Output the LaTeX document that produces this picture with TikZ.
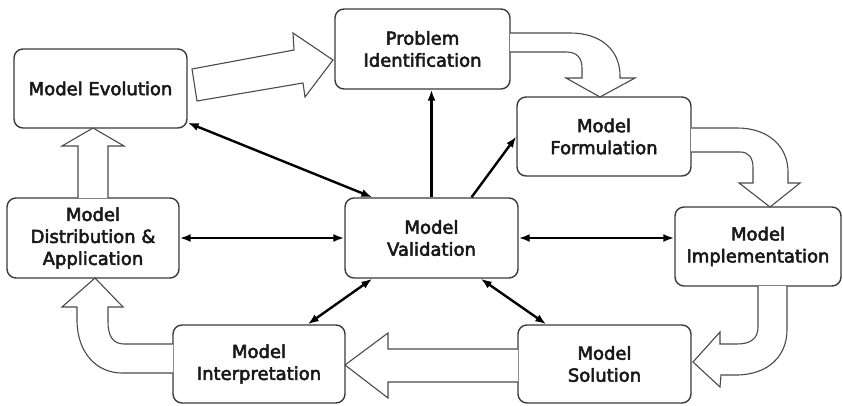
\documentclass[tikz,border=0pt]{standalone}
\usepackage{fontspec}
\setmainfont{DejaVu Sans}
\newfontfamily\stagefont{DejaVu Sans}[FakeBold=3]
\usetikzlibrary{arrows.meta,calc}
\definecolor{boxline}{HTML}{3A3A3A}
\definecolor{bigline}{HTML}{4A4A4A}
\begin{document}
\begin{tikzpicture}[x=1pt,y=-1pt,
  stagebox/.style={draw=boxline, line width=1.4pt, rounded corners=9pt, fill=white,
    align=center, inner sep=0pt, font=\stagefont\fontsize{18}{22}\selectfont,
    text=black!90},
  flowarrow/.style={draw=bigline, line width=1.1pt, fill=white, line join=miter},
  link/.style={line width=2.4pt, black, {Latex[length=11pt,width=8pt]}-{Latex[length=11pt,width=8pt]}},
  onelink/.style={line width=2.4pt, black, -{Latex[length=11pt,width=8pt]}}]
\useasboundingbox (0,0) rectangle (843,406);

% stages of the modelling cycle
\node[stagebox, minimum width=173pt, minimum height=79pt] (evo)  at (100.5,88.5) {Model Evolution};
\node[stagebox, minimum width=175pt, minimum height=80pt] (prob) at (422.5,49)   {Problem\\Identification};
\node[stagebox, minimum width=174pt, minimum height=79pt] (form) at (604,136.5)  {Model\\Formulation};
\node[stagebox, minimum width=166pt, minimum height=79pt] (impl) at (758,246.5)  {Model\\Implementation};
\node[stagebox, minimum width=173pt, minimum height=78pt] (sol)  at (604.5,364)  {Model\\Solution};
\node[stagebox, minimum width=172pt, minimum height=78pt] (intp) at (259,364)    {Model\\Interpretation};
\node[stagebox, minimum width=172pt, minimum height=80pt] (dist) at (93,238)     {Model\\Distribution \&\\Application};
\node[stagebox, minimum width=173pt, minimum height=80pt] (val)  at (431.5,238)  {Model\\Validation};

% broad arrows of the main cycle
\draw[flowarrow] (192,69) -- (294,50) -- (293,33) -- (333,60) -- (305,97) -- (303,83) -- (197,101) -- cycle;
\draw[flowarrow] (510,33) -- (570,33) .. controls (601,33) and (620,50) .. (620,76) -- (620,78)
  -- (635,78) -- (600,97) -- (566,78) -- (582,78) -- (582,68) .. controls (582,58) and (577,52) .. (566,52) -- (510,52);
\draw[flowarrow] (691,128) -- (737,128) .. controls (768,128) and (788,146) .. (788,172) -- (788,183)
  -- (800,183) -- (770,207) -- (739,183) -- (753,183) -- (753,168) .. controls (753,158) and (749,152) .. (740,152) -- (691,152);
\draw[flowarrow] (758,286) -- (758,327) .. controls (758,339) and (750,344) .. (737,344) -- (720,344)
  -- (720,332) -- (693,362) -- (720,387) -- (721,375) -- (736,375) .. controls (768,375) and (787,356) .. (787,330) -- (787,286);
\draw[flowarrow] (518,349) -- (388,349) -- (388,333) -- (345,365) -- (388,398) -- (388,382) -- (518,382);
\draw[flowarrow] (173,344) -- (124,344) .. controls (113,344) and (108,336) .. (108,322) -- (108,307)
  -- (123,307) -- (95,278) -- (62,307) -- (77,307) -- (77,320) .. controls (77,352) and (96,373) .. (122,373) -- (173,373);
\draw[flowarrow] (78,198) -- (78,146) -- (62,146) -- (93,128) -- (124,146) -- (108,146) -- (108,198);

% validation links
\draw[link] ([yshift=6pt]evo.south east) -- ([xshift=28pt]val.north west);
\draw[onelink] (val.north) -- (val.north |- prob.south);
\draw[onelink] ([xshift=40pt]val.north) -- (form.west);
\draw[link] (dist.east) -- (val.west);
\draw[link] (val.east) -- (val.east -| impl.west);
\draw[link] ([xshift=28pt]val.south west) -- ([xshift=-38pt]intp.north east);
\draw[link] ([xshift=-38pt]val.south east) -- ([xshift=29pt]sol.north west);
\end{tikzpicture}
\end{document}
